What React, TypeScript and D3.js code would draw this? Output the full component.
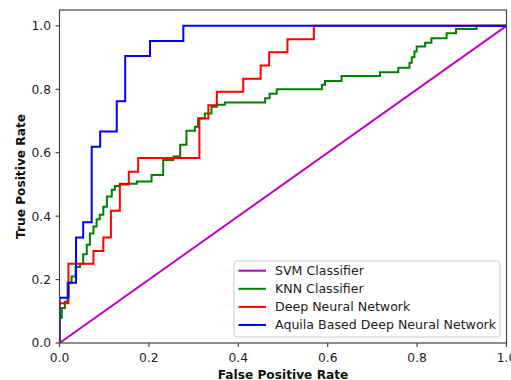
import React from 'react';
import * as d3 from 'd3';

// ROC points (step-after): fpr where tpr jumps, tpr after jump
const svmFpr = [0, 1];
const svmTpr = [0, 1];

const knnFpr = [0, 0, 0.005, 0.012, 0.018, 0.027, 0.036, 0.046, 0.053, 0.061, 0.068, 0.076, 0.083, 0.09, 0.098,
  0.106, 0.117, 0.124, 0.135, 0.173, 0.206, 0.232, 0.255, 0.27, 0.284, 0.303, 0.31, 0.325, 0.34, 0.352,
  0.37, 0.46, 0.47, 0.486, 0.587, 0.594, 0.631, 0.717, 0.758, 0.783, 0.788, 0.794, 0.799, 0.818, 0.832,
  0.866, 0.887, 0.933, 1];
const knnTpr = [0, 0.08, 0.11, 0.13, 0.19, 0.21, 0.24, 0.25, 0.28, 0.31, 0.345, 0.367, 0.39, 0.404, 0.43,
  0.462, 0.483, 0.495, 0.502, 0.509, 0.53, 0.577, 0.588, 0.625, 0.669, 0.682, 0.709, 0.724, 0.745, 0.751,
  0.758, 0.772, 0.786, 0.8, 0.814, 0.826, 0.842, 0.854, 0.868, 0.884, 0.901, 0.919, 0.935, 0.947, 0.961,
  0.977, 0.99, 1, 1];

const dnnFpr = [0, 0, 0.02, 0.076, 0.098, 0.115, 0.135, 0.155, 0.176, 0.313, 0.333, 0.352, 0.411, 0.45, 0.469, 0.51, 0.569, 1];
const dnnTpr = [0, 0.125, 0.25, 0.29, 0.333, 0.417, 0.5, 0.54, 0.583, 0.708, 0.75, 0.792, 0.833, 0.875, 0.917, 0.958, 1, 1];

const aquilaFpr = [0, 0, 0.02, 0.037, 0.053, 0.072, 0.091, 0.128, 0.147, 0.2025, 0.277, 1];
const aquilaTpr = [0, 0.143, 0.19, 0.333, 0.381, 0.619, 0.667, 0.762, 0.905, 0.952, 1, 1];

const labels = ['SVM Classifier', 'KNN Classifier', 'Deep Neural Network', 'Aquila Based Deep Neural Network'];
const colors = ['#bf00bf', '#008000', '#ff0000', '#0000ff'];
const xTicks = [0, 0.2, 0.4, 0.6, 0.8, 1.0];
const yTicks = [0, 0.2, 0.4, 0.6, 0.8, 1.0];

const W = 511, H = 380;
const left = 59.5, right = 506.5, top = 10, bottom = 343;
const font = 'DejaVu Sans, sans-serif';

export default function App() {
  const x = d3.scaleLinear().domain([0, 1]).range([left, right]);
  const y = d3.scaleLinear().domain([0, 1.05]).range([bottom, top]);

  const series = [
    { fpr: svmFpr, tpr: svmTpr, curve: d3.curveLinear },
    { fpr: knnFpr, tpr: knnTpr, curve: d3.curveStepAfter },
    { fpr: dnnFpr, tpr: dnnTpr, curve: d3.curveStepAfter },
    { fpr: aquilaFpr, tpr: aquilaTpr, curve: d3.curveStepAfter },
  ];

  const lx = 234, ly = 261, lw = 266, lh = 76;

  return (
    <svg width={W} height={H} style={{ position: 'absolute', left: 0, top: 0 }} fontFamily={font}>
      <defs>
        <clipPath id="plot">
          <rect x={left} y={top} width={right - left} height={bottom - top} />
        </clipPath>
      </defs>
      <rect x={0} y={0} width={W} height={H} fill="#fff" />
      <g clipPath="url(#plot)">
        {series.map((s, i) => {
          const line = d3.line<[number, number]>()
            .x(d => x(d[0]))
            .y(d => y(d[1]))
            .curve(s.curve);
          return (
            <path key={i}
              d={line(s.fpr.map((f, j) => [f, s.tpr[j]] as [number, number])) || ''}
              fill="none" stroke={colors[i]} strokeWidth={2} />
          );
        })}
      </g>
      <rect x={left} y={top} width={right - left} height={bottom - top} fill="none" stroke="#444" strokeWidth={1.2} />
      {xTicks.map(t => (
        <g key={'x' + t}>
          <line x1={x(t)} x2={x(t)} y1={bottom} y2={bottom + 4} stroke="#444" strokeWidth={1.2} />
          <text x={x(t)} y={361.5} fontSize={12.3} textAnchor="middle" fill="#222">{t.toFixed(1)}</text>
        </g>
      ))}
      {yTicks.map(t => (
        <g key={'y' + t}>
          <line x1={left - 4} x2={left} y1={y(t)} y2={y(t)} stroke="#444" strokeWidth={1.2} />
          <text x={51} y={y(t) + 4.4} fontSize={12.3} textAnchor="end" fill="#222">{t.toFixed(1)}</text>
        </g>
      ))}
      <text x={(left + right) / 2} y={378.5} fontSize={12.2} fontWeight="bold" textAnchor="middle" fill="#111">False Positive Rate</text>
      <text transform={`translate(24.5,${(top + bottom) / 2}) rotate(-90)`} fontSize={12.2} fontWeight="bold" textAnchor="middle" fill="#111">True Positive Rate</text>
      <rect x={lx} y={ly} width={lw} height={lh} rx={3} fill="#fff" fillOpacity={0.8} stroke="#ccc" strokeWidth={1} />
      {labels.map((l, i) => {
        const cy = 270.7 + i * 18.1;
        return (
          <g key={l}>
            <line x1={238.5} x2={266} y1={cy} y2={cy} stroke={colors[i]} strokeWidth={2} />
            <text x={275} y={cy + 4.4} fontSize={12.6} fill="#222">{l}</text>
          </g>
        );
      })}
    </svg>
  );
}
